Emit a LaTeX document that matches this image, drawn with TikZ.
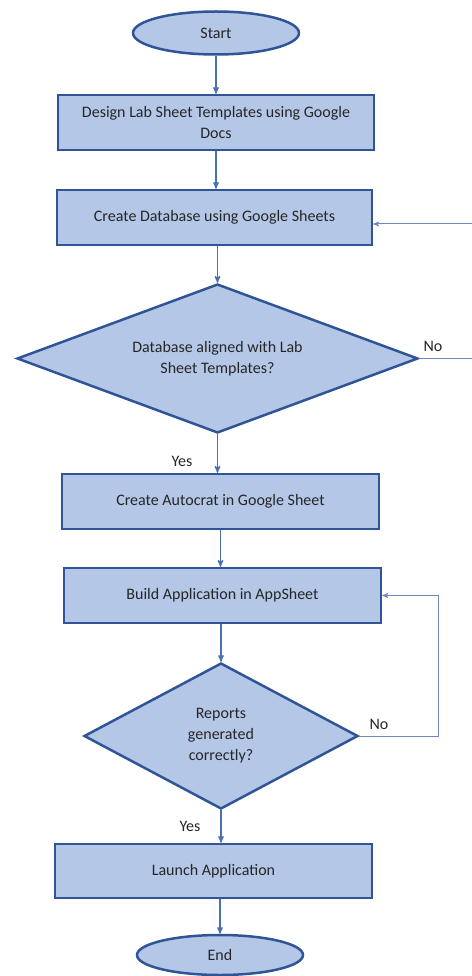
\documentclass[tikz,border=0pt]{standalone}
\usepackage{fontspec}
\setmainfont{Carlito}
\usepackage{tikz}
\usetikzlibrary{arrows,shapes.geometric}
\definecolor{boxfill}{HTML}{B4C7E7}
\definecolor{boxline}{HTML}{2F5597}
\definecolor{flowline}{HTML}{4A6FB5}
\definecolor{loopline}{HTML}{7088BE}
\definecolor{labeltext}{HTML}{262626}

\begin{document}
\begin{tikzpicture}[
    x=1pt, y=-1pt,
    every node/.style={color=labeltext, font=\fontsize{16}{21}\selectfont},
    terminal/.style={ellipse, draw=boxline, fill=boxfill, line width=2.5pt,
    minimum width=166pt, minimum height=43pt, inner sep=0pt},
    process/.style={rectangle, draw=boxline, fill=boxfill, line width=2.5pt,
    minimum width=316pt, minimum height=55pt, inner sep=0pt, align=center},
    decision/.style={diamond, draw=boxline, fill=boxfill, line width=2.5pt,
    inner sep=0pt, align=center},
    flow/.style={draw=flowline, line width=1.3pt, ->, >=stealth'},
    back flow/.style={draw=loopline, line width=1pt, ->, >=stealth'}
    ]
\useasboundingbox (0,0) rectangle (471,976);
\node(start)[terminal] at (216,33) {Start};
\node(box1)[process] at (216,122.5) {Design Lab Sheet Templates using Google\\Docs};
\node(box2)[process, minimum width=315pt] at (214.5,217.5) {Create Database using Google Sheets};
\node(dec1)[decision, aspect=2.7, minimum width=401pt, minimum height=149pt] at (217.5,358.5) {Database aligned with Lab\\Sheet Templates?};
\node(box3)[process, minimum width=317pt] at (220.5,501.5) {Create Autocrat in Google Sheet};
\node(box4)[process, minimum width=317pt] at (222.5,595.5) {Build Application in AppSheet};
\node(dec2)[decision, aspect=1.9, minimum width=274pt, minimum height=146pt] at (221,736) {Reports\\generated\\correctly?};
\node(box5)[process, minimum width=317pt, minimum height=54pt] at (213.5,871) {Launch Application};
\node(stop)[terminal, minimum height=40pt] at (220,955) {End};
\coordinate(loopa) at (480,224);
\coordinate(loopb) at (438,595.5);
\draw[flow] (start.south) -- (start.south |- box1.north);
\draw[flow] (box1.south) -- (box1.south |- box2.north);
\draw[flow] (box2.south -| dec1.north) -- (dec1.north);
\draw[flow] (dec1.south) -- (dec1.south |- box3.north);
\draw[flow] (box3.south) -- (box3.south |- box4.north);
\draw[flow] (box4.south -| dec2.north) -- (dec2.north);
\draw[flow] (dec2.south) -- (dec2.south |- box5.north);
\draw[flow] (box5.south -| stop.north) -- (stop.north);
\draw[back flow] (dec1.east) -| (loopa) -- (box2.east |- loopa);
\draw[back flow] (dec2.east) -| (loopb) -- (box4.east);
\node(no1) at (433,346) {No};
\node(yes1) at (182,461) {Yes};
\node(no2) at (379,724) {No};
\node(yes2) at (190,826) {Yes};
\end{tikzpicture}
\end{document}
